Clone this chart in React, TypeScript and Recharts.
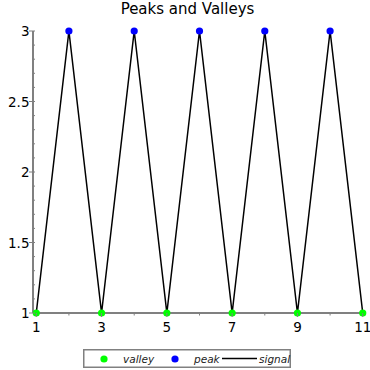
import React from 'react';
import { ComposedChart, Line, Scatter, XAxis, YAxis, Legend } from 'recharts';

const signalX = [1, 2, 3, 4, 5, 6, 7, 8, 9, 10, 11];
const signalY = [1, 3, 1, 3, 1, 3, 1, 3, 1, 3, 1];
const valleyX = [1, 3, 5, 7, 9, 11];
const valleyY = [1, 1, 1, 1, 1, 1];
const peakX = [2, 4, 6, 8, 10];
const peakY = [3, 3, 3, 3, 3];
const xTicks = [1, 2, 3, 4, 5, 6, 7, 8, 9, 10, 11];
const xLabels = [1, 3, 5, 7, 9, 11];
const yTicks = [1, 1.1, 1.2, 1.3, 1.4, 1.5, 1.6, 1.7, 1.8, 1.9, 2, 2.1, 2.2, 2.3, 2.4, 2.5, 2.6, 2.7, 2.8, 2.9, 3];
const yLabels = [1, 1.5, 2, 2.5, 3];
const title = 'Peaks and Valleys';
const seriesNames = ['valley', 'peak', 'signal'];

const signalData = signalX.map((x, i) => ({ x, y: signalY[i] }));
const valleyData = valleyX.map((x, i) => ({ x, y: valleyY[i] }));
const peakData = peakX.map((x, i) => ({ x, y: peakY[i] }));

const FONT = '"DejaVu Sans", sans-serif';
const AXIS = '#808080';

const XTick = (props: any) => {
  const { x, y, payload } = props;
  const major = xLabels.includes(payload.value);
  return (
    <g>
      <line x1={x} x2={x} y1={y} y2={y + (major ? 4 : 2.5)} stroke={AXIS} strokeWidth={1} />
      {major && (
        <text x={x} y={y + 19} textAnchor="middle" fontFamily={FONT} fontSize={13.5} fill="#000">
          {String(payload.value)}
        </text>
      )}
    </g>
  );
};

const YTick = (props: any) => {
  const { x, y, payload } = props;
  const major = yLabels.includes(payload.value);
  return (
    <g>
      {major ? (
        <line x1={x - 4} x2={x + 2} y1={y} y2={y} stroke={AXIS} strokeWidth={1} />
      ) : (
        <line x1={x} x2={x + 2} y1={y} y2={y} stroke={AXIS} strokeWidth={1} />
      )}
      {major && (
        <text x={x - 3.5} y={y + 5} textAnchor="end" fontFamily={FONT} fontSize={13.5} fill="#000">
          {String(payload.value)}
        </text>
      )}
    </g>
  );
};

const dot = (color: string) => (props: any) => (
  <circle cx={props.cx} cy={props.cy} r={3.6} fill={color} />
);

const LegendBox = () => (
  <div style={{ width: 208, height: 19, boxSizing: 'border-box' }}>
    <svg width={208} height={19} style={{ display: 'block' }}>
      <rect x={0.75} y={0.75} width={206.5} height={17.5} fill="#fff" stroke={AXIS} strokeWidth={1.5} />
      <circle cx={21} cy={10} r={3.6} fill="#00ff00" />
      <text x={40} y={13.5} fontFamily={FONT} fontStyle="italic" fontSize={10.5} fill="#222">{seriesNames[0]}</text>
      <circle cx={92} cy={10} r={3.6} fill="#0000ff" />
      <text x={111} y={13.5} fontFamily={FONT} fontStyle="italic" fontSize={10.5} fill="#222">{seriesNames[1]}</text>
      <line x1={139} x2={174} y1={9.5} y2={9.5} stroke="#000" strokeWidth={1.5} />
      <text x={176} y={13.5} fontFamily={FONT} fontStyle="italic" fontSize={10.5} fill="#222">{seriesNames[2]}</text>
    </svg>
  </div>
);

export default function App() {
  return (
    <div style={{ position: 'absolute', left: 0, top: 0, width: 370, height: 370, background: '#fff' }}>
      <svg width={370} height={20} style={{ position: 'absolute', left: 0, top: 0 }}>
        <text x={187.5} y={14} textAnchor="middle" fontFamily={FONT} fontSize={15} fill="#000">{title}</text>
      </svg>
      <div style={{ position: 'absolute', left: 0, top: 0 }}>
        <ComposedChart width={370} height={370} margin={{ top: 31, right: 4, bottom: 2, left: 0 }}>
          <XAxis
            type="number"
            dataKey="x"
            domain={[0.9, 11.1]}
            ticks={xTicks}
            interval={0}
            height={36}
            tickSize={0}
            tickMargin={0}
            tickLine={false}
            axisLine={{ stroke: AXIS, strokeWidth: 2 }}
            tick={<XTick />}
          />
          <YAxis
            type="number"
            dataKey="y"
            domain={[1, 3]}
            ticks={yTicks}
            interval={0}
            width={33}
            tickSize={0}
            tickMargin={0}
            tickLine={false}
            axisLine={{ stroke: AXIS, strokeWidth: 2 }}
            tick={<YTick />}
          />
          <Legend
            verticalAlign="bottom"
            align="center"
            content={() => <LegendBox />}
            wrapperStyle={{ left: 83, width: 208, bottom: 2 }}
          />
          <Line
            data={signalData}
            dataKey="y"
            type="linear"
            stroke="#000"
            strokeWidth={1.5}
            dot={false}
            activeDot={false}
            isAnimationActive={false}
            name={seriesNames[2]}
          />
          <Scatter data={valleyData} dataKey="y" name={seriesNames[0]} fill="#00ff00" shape={dot('#00ff00')} isAnimationActive={false} />
          <Scatter data={peakData} dataKey="y" name={seriesNames[1]} fill="#0000ff" shape={dot('#0000ff')} isAnimationActive={false} />
        </ComposedChart>
      </div>
    </div>
  );
}
